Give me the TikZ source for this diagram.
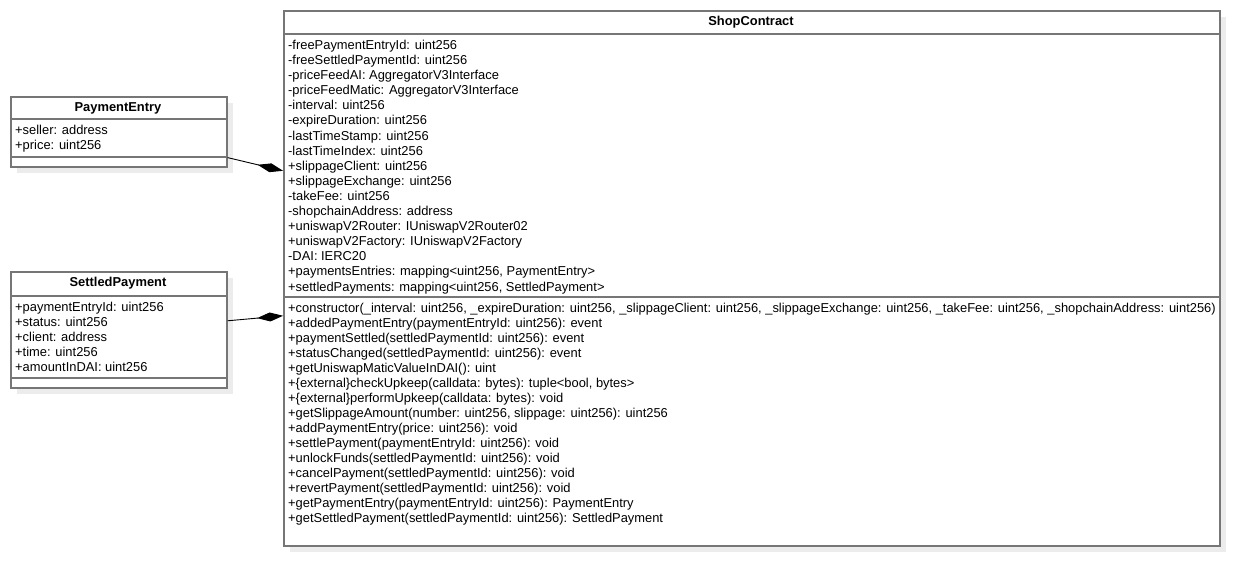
\documentclass[tikz,border=0pt]{standalone}
\usepackage{fontspec}
\setmainfont{Liberation Sans}
\usetikzlibrary{arrows.meta,calc}
\definecolor{boxline}{RGB}{118,118,118}
\definecolor{shadowc}{RGB}{236,236,236}
\tikzset{
  umlbox/.style={draw=boxline, line width=1.6pt, fill=white, rectangle, inner sep=0pt, anchor=north west},
  shadowbox/.style={fill=shadowc, draw=none},
  sep/.style={draw=boxline, line width=1.6pt},
  member/.style={anchor=base west, inner sep=0pt, font=\fontsize{12.9}{14}\selectfont},
  title/.style={inner sep=0pt, font=\fontsize{12.9}{14}\selectfont\bfseries},
  compo/.style={draw=black, line width=0.9pt, -{Diamond[length=26pt,width=9pt]}},
}
\begin{document}
\begin{tikzpicture}[x=1pt,y=-1pt]
\useasboundingbox (0,0) rectangle (1259,585);
% shadows
\fill[shadowbox] (17,103) rectangle (233,173);
\fill[shadowbox] (17,278) rectangle (233,394);
\fill[shadowbox] (290,17) rectangle (1226,552);
% PaymentEntry
\node[umlbox, minimum width=216pt, minimum height=70pt] (pe) at (10,96) {};
\node[title] (pet) at (118,108) {PaymentEntry};
\draw[sep] (10,119) -- (226,119);
\draw[sep] (10,157) -- (226,157);
\node[member] (pe1) at (15,134.5) {+seller: address};
\node[member] (pe2) at (15,149.5) {+price: uint256};
% SettledPayment
\node[umlbox, minimum width=216pt, minimum height=116pt] (sp) at (10,271) {};
\node[title] (spt) at (118,283) {SettledPayment};
\draw[sep] (10,296) -- (226,296);
\draw[sep] (10,378) -- (226,378);
\foreach \t [count=\i] in {+paymentEntryId: uint256,+status: uint256,+client: address,+time: uint256,+amountInDAI: uint256}{
  \node[member] (sp\i) at (15,{307+4.5+(\i-1)*14.9}) {\t};
}
% ShopContract
\node[umlbox, minimum width=936pt, minimum height=535pt] (sc) at (283,10) {};
\node[title] (sct) at (751,22) {ShopContract};
\draw[sep] (283,34) -- (1219,34);
\draw[sep] (283,297) -- (1219,297);
\foreach \t [count=\i] in {
 -freePaymentEntryId: uint256,
 -freeSettledPaymentId: uint256,
 -priceFeedAI: AggregatorV3Interface,
 -priceFeedMatic: AggregatorV3Interface,
 -interval: uint256,
 -expireDuration: uint256,
 -lastTimeStamp: uint256,
 -lastTimeIndex: uint256,
 +slippageClient: uint256,
 +slippageExchange: uint256,
 -takeFee: uint256,
 -shopchainAddress: address,
 +uniswapV2Router: IUniswapV2Router02,
 +uniswapV2Factory: IUniswapV2Factory,
 -DAI: IERC20,
 {+paymentsEntries: mapping<uint256, PaymentEntry>},
 {+settledPayments: mapping<uint256, SettledPayment>}}{
  \node[member] (sca\i) at (288,{45+4.5+(\i-1)*15.1}) {\t};
}
\foreach \t [count=\i] in {
 {+constructor(\_interval: uint256, \_expireDuration: uint256, \_slippageClient: uint256, \_slippageExchange: uint256, \_takeFee: uint256, \_shopchainAddress: uint256)},
 +addedPaymentEntry(paymentEntryId: uint256): event,
 +paymentSettled(settledPaymentId: uint256): event,
 +statusChanged(settledPaymentId: uint256): event,
 +getUniswapMaticValueInDAI(): uint,
 {+\{external\}checkUpkeep(calldata: bytes): tuple<bool, bytes>},
 +\{external\}performUpkeep(calldata: bytes): void,
 {+getSlippageAmount(number: uint256, slippage: uint256): uint256},
 +addPaymentEntry(price: uint256): void,
 +settlePayment(paymentEntryId: uint256): void,
 +unlockFunds(settledPaymentId: uint256): void,
 +cancelPayment(settledPaymentId: uint256): void,
 +revertPayment(settledPaymentId: uint256): void,
 +getPaymentEntry(paymentEntryId: uint256): PaymentEntry,
 +getSettledPayment(settledPaymentId: uint256): SettledPayment}{
  \node[member] (scm\i) at (288,{308+4.5+(\i-1)*15}) {\t};
}
% compositions
\draw[compo] ([yshift=10pt]pe.south east) -- ([yshift=107.5pt]sc.west);
\draw[compo] ([yshift=9pt]sp.east) -- ([yshift=-37.5pt]sc.west);
\end{tikzpicture}
\end{document}
